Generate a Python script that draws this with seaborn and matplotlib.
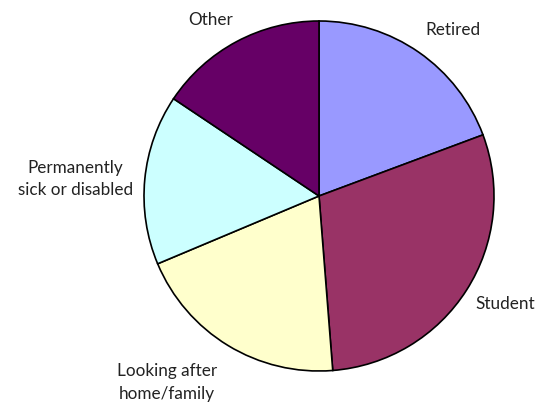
import numpy as np
import matplotlib
matplotlib.use("Agg")
import matplotlib.pyplot as plt
import seaborn as sns

categories = ["Retired", "Student", "Looking after\nhome/family",
              "Permanently\nsick or disabled", "Other"]
values = [19.3, 29.4, 19.9, 15.7, 15.6]
colors = ["#9999FF", "#993366", "#FFFFCC", "#CCFFFF", "#660066"]
# label placement: radial distance and angular nudge (degrees) from wedge middle
label_dist = [1.13, 1.08, 1.21, 1.067, 1.125]
label_nudge = [2.3, -1.9, 2.6, 0.0, -2.2]

sns.set_theme(style="white")
plt.rcParams['font.family'] = ['Lato', 'DejaVu Sans']

fig = plt.figure(figsize=(5.42, 4.06), dpi=100)
W, H = 542, 406
cx, cy, r = 319, 197, 175
ax = fig.add_axes([(cx - r) / W, (H - cy - r) / H, 2 * r / W, 2 * r / H])

wedges, texts = ax.pie(values, colors=colors, startangle=90, counterclock=False,
                       labels=categories, labeldistance=1.1,
                       wedgeprops=dict(edgecolor="black", linewidth=1.2),
                       textprops=dict(fontsize=12.3, color="#222222", linespacing=1.5))
for w, t, d, n in zip(wedges, texts, label_dist, label_nudge):
    ang = np.deg2rad((w.theta1 + w.theta2) / 2 + n)
    x, y = d * np.cos(ang), d * np.sin(ang)
    t.set_position((x, y))
    t.set_ha("left" if x > 0 else "right")
    t.set_va("center")
    t.set_multialignment("center")
ax.set_xlim(-1, 1)
ax.set_ylim(-1, 1)
ax.axis("off")
fig.savefig("out.png", dpi=100)
